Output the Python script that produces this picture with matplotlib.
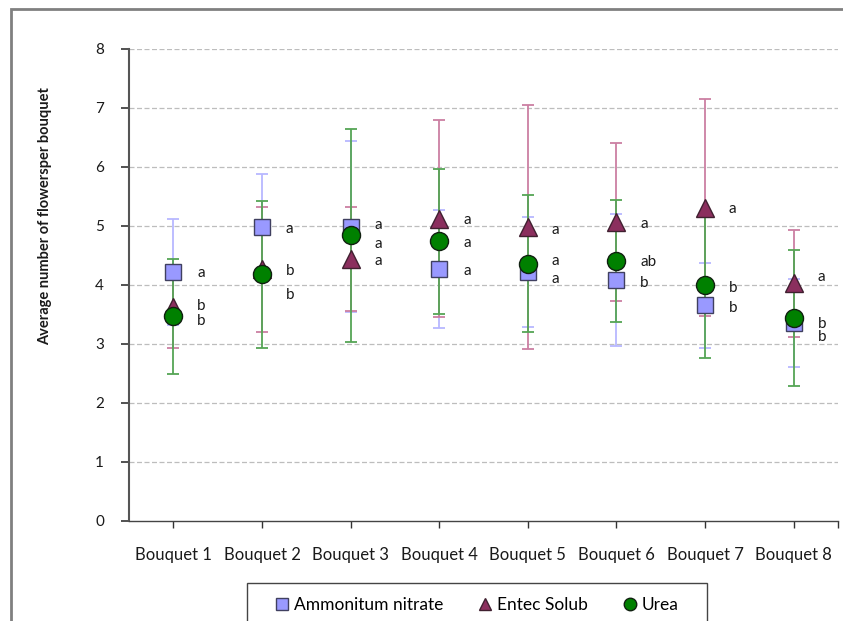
# Average flowers per bouquet by fertiliser, with error bars and letter groups

import numpy as np
import matplotlib
matplotlib.use('Agg')
import matplotlib.pyplot as plt
from matplotlib.patches import Rectangle
from matplotlib.lines import Line2D

plt.rcParams['font.family'] = ['Lato', 'DejaVu Sans']

# data
bouquets = ['Bouquet 1', 'Bouquet 2', 'Bouquet 3', 'Bouquet 4',
            'Bouquet 5', 'Bouquet 6', 'Bouquet 7', 'Bouquet 8']

amm_mean = [4.22, 4.99, 4.99, 4.27, 4.22, 4.09, 3.66, 3.36]
amm_err = [0.90, 0.89, 1.45, 1.00, 0.93, 1.12, 0.72, 0.75]
amm_letters = ['a', 'a', 'a', 'a', 'a', 'b', 'b', 'b']

entec_mean = [3.62, 4.27, 4.44, 5.12, 4.98, 5.07, 5.31, 4.03]
entec_err = [0.69, 1.06, 0.88, 1.67, 2.07, 1.34, 1.84, 0.91]
entec_letters = ['b', 'b', 'a', 'a', 'a', 'a', 'a', 'a']

urea_mean = [3.47, 4.18, 4.84, 4.74, 4.36, 4.41, 4.00, 3.44]
urea_err = [0.97, 1.25, 1.80, 1.23, 1.16, 1.03, 1.24, 1.15]
urea_letters = ['b', 'b', 'a', 'a', 'a', 'ab', 'b', 'b']

# small nudges so letters don't sit right on top of each other
amm_shift = [-0.02, -0.04, 0.03, -0.03, -0.12, -0.06, -0.05, -0.24]
entec_shift = [0.02, -0.03, -0.03, -0.02, -0.05, -0.04, -0.02, 0.11]
urea_shift = [-0.08, -0.35, -0.14, -0.03, 0.04, -0.02, -0.05, -0.10]

x = np.arange(1, len(bouquets) + 1)

fig = plt.figure(figsize=(8.43, 6.21), dpi=100)
ax = fig.add_axes([129 / 843, 1 - 521 / 621, (838 - 129) / 843, (521 - 49) / 621])

series = [
    (amm_mean, amm_err, amm_letters, amm_shift, 's', '#9999FF', '#404060', '#B8B8FF', 12),
    (entec_mean, entec_err, entec_letters, entec_shift, '^', '#8B2F5E', '#402030', '#CC7FA3', 13),
    (urea_mean, urea_err, urea_letters, urea_shift, 'o', '#008000', '#102010', '#55A555', 13),
]

for z, (mean, err, letters, shift, mk, fc, ec, errc, ms) in enumerate(series):
    ax.errorbar(x, mean, yerr=err, fmt='none', ecolor=errc, elinewidth=1.3,
                capsize=4, capthick=1.3, zorder=3 + z)
    ax.plot(x, mean, ls='none', marker=mk, markersize=ms, markerfacecolor=fc,
            markeredgecolor=ec, markeredgewidth=1.0, zorder=6 + z)
    for xi, m, lab, s in zip(x, mean, letters, shift):
        ax.text(xi + 0.27, m + s, lab, ha='left', va='center', fontsize=11,
                color='#1a1a1a', zorder=10)

# axes formatting
ax.set_xlim(0.5, 8.5)
ax.set_ylim(0, 8)
ax.set_yticks(range(0, 9))
ax.set_xticks(list(x) + [8.5])
ax.set_xticklabels(bouquets + [''])
ax.tick_params(axis='both', colors='#333333', labelcolor='#1a1a1a')
ax.tick_params(axis='y', length=6, width=1.2, pad=12, labelsize=11)
ax.tick_params(axis='x', length=5, width=1.0, pad=14, labelsize=12)
for yv in range(1, 9):
    ax.axhline(yv, color='#BDBDBD', ls=(0, (4, 2)), lw=0.9, zorder=1)
ax.spines['top'].set_visible(False)
ax.spines['right'].set_visible(False)
ax.spines['left'].set_color('#555555')
ax.spines['left'].set_linewidth(1.5)
ax.spines['bottom'].set_color('#444444')
ax.spines['bottom'].set_linewidth(1.0)

fig.text(45 / 843, 1 - 216 / 621, 'Average number of flowersper bouquet', rotation=90,
         ha='center', va='center', fontsize=10.5, fontweight='bold', color='#1a1a1a')

# outer chart frame (runs off the bottom and right)
fig.patches.append(Rectangle((11 / 843, -0.2), 1.2, 1 - 9 / 621 + 0.2, transform=fig.transFigure,
                             fill=False, edgecolor='#808080', lw=2))

# legend box, also cut off at the bottom
fig.patches.append(Rectangle((247 / 843, -0.1), (707 - 247) / 843, 1 - 583 / 621 + 0.1,
                             transform=fig.transFigure, fill=False, edgecolor='#444444', lw=1))
handles = [
    Line2D([], [], ls='none', marker='s', markersize=9, markerfacecolor='#9999FF', markeredgecolor='#404060'),
    Line2D([], [], ls='none', marker='^', markersize=9, markerfacecolor='#8B2F5E', markeredgecolor='#402030'),
    Line2D([], [], ls='none', marker='o', markersize=9, markerfacecolor='#008000', markeredgecolor='#102010'),
]
fig.legend(handles, ['Ammonitum nitrate', 'Entec Solub', 'Urea'], loc='center',
           bbox_to_anchor=(477 / 843, 1 - 605 / 621), ncol=3, frameon=False, fontsize=12.5,
           handlelength=0.8, handletextpad=0.3, columnspacing=2.0)

fig.savefig('out.png', dpi=100)
